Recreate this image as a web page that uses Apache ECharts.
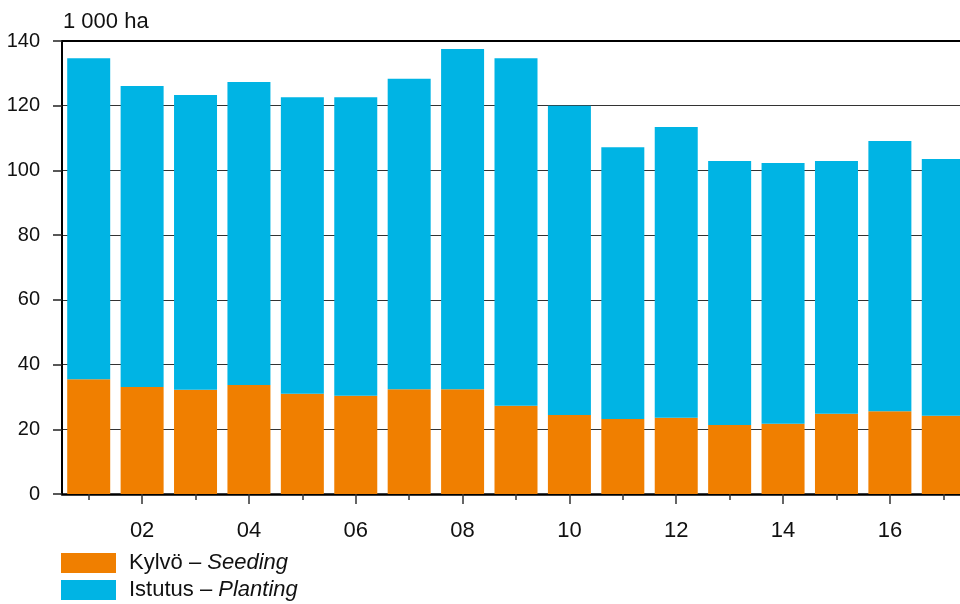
<!DOCTYPE html>
<html>
<head>
<meta charset="utf-8">
<script src="https://cdn.jsdelivr.net/npm/echarts@6/dist/echarts.min.js"></script>
<style>html,body{margin:0;padding:0;background:#fff}#c{width:960px;height:604px}</style>
</head>
<body>
<div id="c"></div>
<script>
var categories = ['01','02','03','04','05','06','07','08','09','10','11','12','13','14','15','16','17'];
var seeding  = [35.5, 33.1, 32.2, 33.7, 31.0, 30.4, 32.4, 32.4, 27.3, 24.4, 23.2, 23.6, 21.3, 21.7, 24.8, 25.6, 24.2];
var planting = [99.2, 93.0, 91.1, 93.6, 91.6, 92.2, 95.9, 105.1, 107.4, 95.6, 84.0, 89.8, 81.6, 80.6, 78.1, 83.5, 79.3];
var yTicks = [0, 20, 40, 60, 80, 100, 120, 140];
var seriesNames = ['Kylvö – Seeding', 'Istutus – Planting'];
var unitLabel = '1 000 ha';

var FONT = "'Liberation Sans',Arial,sans-serif";
var chart = echarts.init(document.getElementById('c'));
var labeled = function (i) { return i % 2 === 1; };
chart.setOption({
  animation: false,
  title: {
    text: unitLabel, left: 63, top: 11, padding: 0,
    textStyle: { fontFamily: FONT, fontSize: 22, fontWeight: 'normal', color: '#111' }
  },
  grid: { left: 62, top: 41, width: 908, bottom: 110, containLabel: false, outerBoundsMode: 'none' },
  legend: {
    orient: 'vertical', left: 61, top: 552, padding: 0,
    itemWidth: 55, itemHeight: 20, itemGap: 5,
    icon: 'rect',
    data: seriesNames,
    formatter: function (name) {
      var p = name.split(' – ');
      return '{n|' + p[0] + ' – }{i|' + p[1] + '}';
    },
    textStyle: {
      fontFamily: FONT, fontSize: 22, color: '#111', lineHeight: 22,
      rich: {
        n: { fontFamily: FONT, fontSize: 22, color: '#111', lineHeight: 22, padding: [0, 0, 0, 8] },
        i: { fontFamily: FONT, fontSize: 22, color: '#111', lineHeight: 22, fontStyle: 'italic' }
      }
    }
  },
  xAxis: [{
    type: 'category', data: categories, position: 'bottom',
    axisLine: { lineStyle: { color: '#000', width: 2.5 } },
    axisTick: { show: true, alignWithLabel: true, interval: labeled, length: 10, lineStyle: { color: '#333', width: 1.5 } },
    axisLabel: {
      interval: labeled, margin: 26,
      fontFamily: FONT, fontSize: 22, color: '#111'
    }
  }, {
    type: 'category', data: categories, position: 'bottom',
    axisLine: { show: false },
    axisTick: { show: true, alignWithLabel: true, interval: 0, length: 6, lineStyle: { color: '#333', width: 1.5 } },
    axisLabel: { show: false }
  }, {
    type: 'category', data: categories, position: 'top',
    axisLine: { show: true, lineStyle: { color: '#000', width: 2 } },
    axisTick: { show: false }, axisLabel: { show: false }
  }],
  yAxis: {
    type: 'value', min: yTicks[0], max: yTicks[yTicks.length - 1], interval: 20,
    axisLine: { show: true, lineStyle: { color: '#000', width: 2 } },
    axisTick: { show: true, length: 9, lineStyle: { color: '#222', width: 1.5 } },
    axisLabel: { margin: 22, fontFamily: FONT, fontSize: 20, color: '#111' },
    splitLine: { lineStyle: { color: '#333', width: 1.2 } }
  },
  series: [{
    name: seriesNames[0], type: 'bar', stack: 'a', data: seeding, xAxisIndex: 0,
    barWidth: 43, itemStyle: { color: '#F07F00' }
  }, {
    name: seriesNames[1], type: 'bar', stack: 'a', data: planting, xAxisIndex: 0,
    barWidth: 43, itemStyle: { color: '#00B4E4' }
  }]
});
</script>
</body>
</html>
